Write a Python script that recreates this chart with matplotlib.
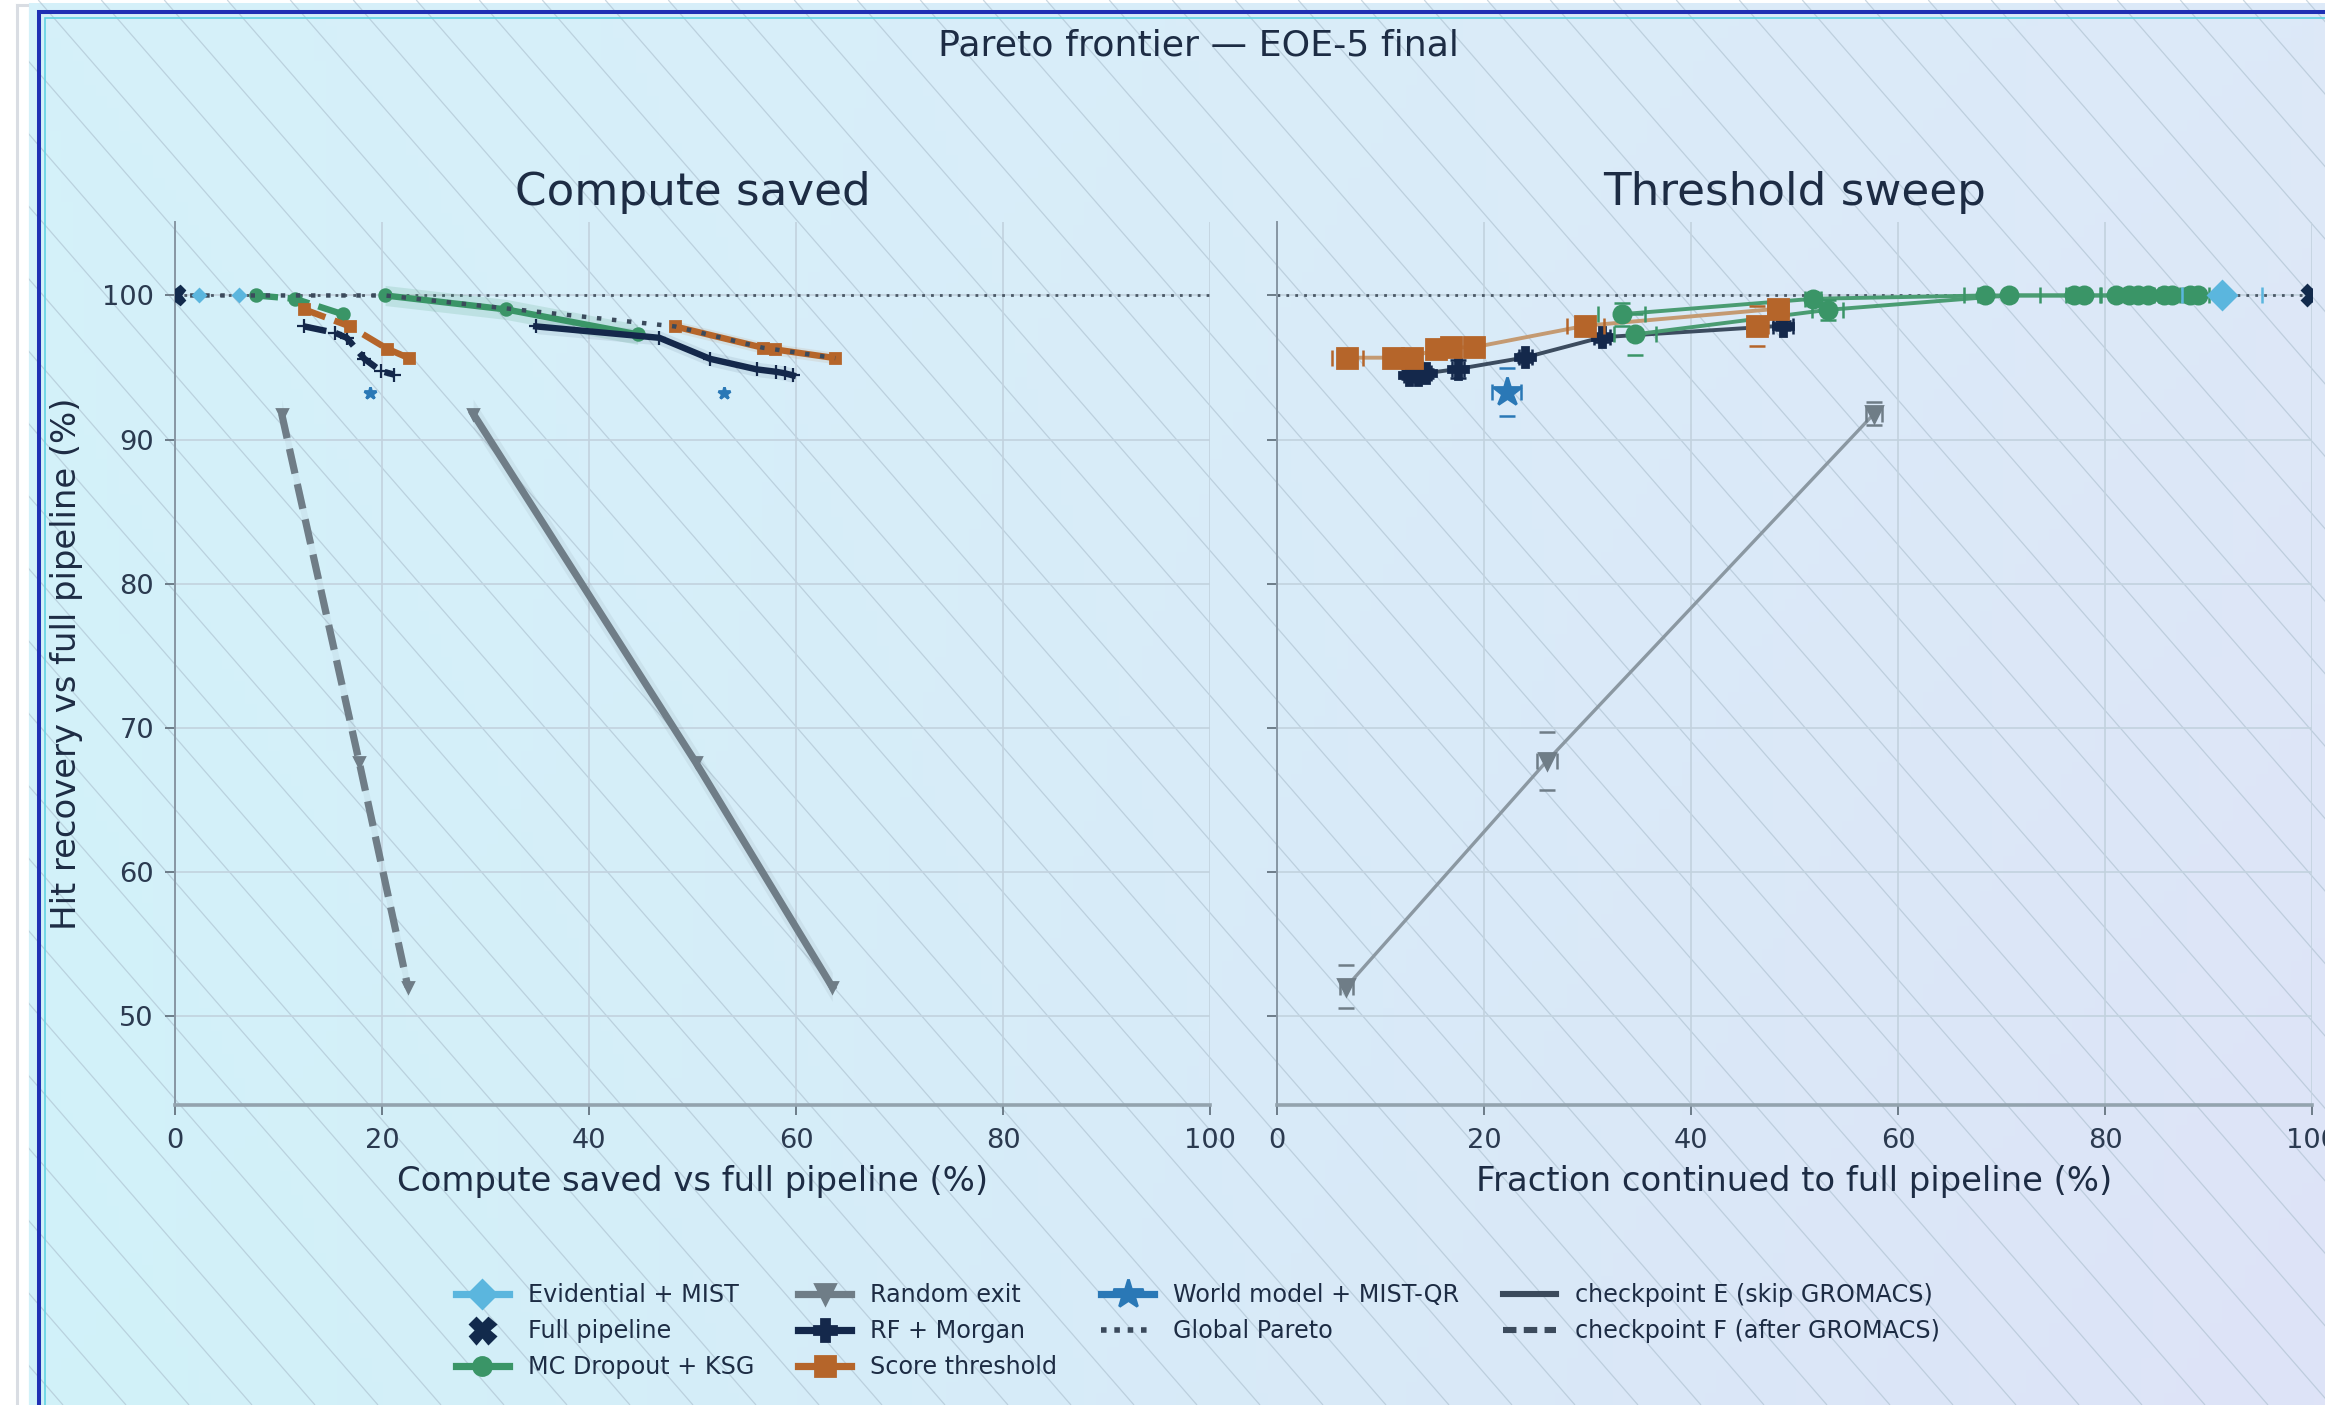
import numpy as np
import matplotlib
matplotlib.use("Agg")
import matplotlib.pyplot as plt
from matplotlib.lines import Line2D
from matplotlib.collections import LineCollection

W, H, DPI = 2325, 1405, 200

# ---------------- data: compute-saved view ----------------
evid_saved = [2.3, 6.2]
evid_rec = [100.0, 100.0]
full_saved = [0.0]
full_rec = [100.0]

mcd_e_saved = [20.3, 32.0, 44.7]
mcd_e_rec = [100.0, 99.03, 97.3]
mcd_f_saved = [7.8, 11.6, 16.2]
mcd_f_rec = [100.0, 99.77, 98.7]

rf_e_saved = [34.9, 46.8, 51.7, 56.2, 58.1, 58.9, 59.7]
rf_e_rec = [97.85, 97.06, 95.6, 94.87, 94.7, 94.6, 94.45]
rf_f_saved = [12.5, 15.5, 16.6, 18.3, 19.9, 21.2]
rf_f_rec = [97.85, 97.4, 97.06, 95.6, 94.75, 94.5]

score_e_saved = [48.3, 56.8, 58.0, 63.8]
score_e_rec = [97.85, 96.37, 96.25, 95.65]
score_f_saved = [12.5, 16.9, 20.5, 22.6]
score_f_rec = [99.03, 97.85, 96.3, 95.65]

rand_e_saved = [28.8, 50.3, 63.5]
rand_f_saved = [10.3, 17.8, 22.5]
rand_rec = [91.8, 67.6, 52.0]

wm_saved = [18.8, 53.0]
wm_rec = [93.2, 93.2]

pareto_saved = [0.0, 20.3, 48.3, 56.8, 58.0, 63.8]
pareto_rec = [100.0, 100.0, 97.85, 96.37, 96.25, 95.65]

# ---------------- data: threshold sweep ----------------
rand_frac = [6.7, 26.1, 57.7]
rand_sw = [52.0, 67.7, 91.8]
rand_xerr = [0.6, 1.0, 0.8]
rand_yerr = [1.5, 2.0, 0.8]

wm_frac = [22.2]
wm_sw = [93.3]
wm_xerr = [1.4]
wm_yerr = [1.65]

score_frac = [6.8, 11.2, 13.0, 15.4, 16.8, 19.0, 29.8, 48.4]
score_sw = [95.68, 95.68, 95.68, 96.3, 96.4, 96.4, 97.9, 99.08]
score_xerr = [1.5, 0.8, 0.6, 0.8, 0.6, 0.6, 1.8, 1.0]
score_yerr = [0.3, 0.3, 0.3, 0.3, 0.3, 0.3, 0.4, 0.4]
score_alt_frac = [46.4]
score_alt_sw = [97.9]
score_alt_xerr = [1.0]
score_alt_yerr = [1.4]

rf_frac = [12.8, 13.6, 14.4, 17.5, 24.0, 31.4, 48.9]
rf_sw = [94.5, 94.5, 94.6, 94.9, 95.7, 97.1, 97.9]
rf_xerr = [0.5, 0.5, 0.5, 0.6, 0.6, 0.8, 1.0]
rf_yerr = [0.3, 0.3, 0.3, 0.6, 0.3, 0.3, 0.3]

mcd_f_frac = [33.3, 51.8, 68.4, 77.0, 81.1, 83.2, 85.7, 88.2]
mcd_f_sw = [98.7, 99.77, 100.0, 100.0, 100.0, 100.0, 100.0, 100.0]
mcd_f_xerr = [2.3, 0.8, 2.0, 0.8, 1.5, 1.0, 1.0, 1.0]
mcd_f_yerr = [0.8, 0.3, 0.0, 0.0, 0.0, 0.0, 0.0, 0.0]
mcd_e_frac = [34.6, 53.2, 70.7, 78.0, 82.3, 84.2, 86.5, 89.0]
mcd_e_sw = [97.3, 99.0, 100.0, 100.0, 100.0, 100.0, 100.0, 100.0]
mcd_e_xerr = [2.0, 1.5, 3.0, 1.5, 1.0, 1.0, 1.0, 1.0]
mcd_e_yerr = [1.4, 0.7, 0.0, 0.0, 0.0, 0.0, 0.0, 0.0]

evid_frac = [91.3]
evid_sw = [100.0]
evid_xerr = [3.9]

full_frac = [100.0]
full_sw = [100.0]

# ---------------- styling ----------------
C_EVID = "#5bb6de"
C_FULL = "#122a4c"
C_MCD = "#3a9567"
C_RAND = "#6f7d87"
C_RF = "#14284b"
C_SCORE = "#b5652a"
C_WM = "#2a78b6"
C_LINE = "#3b4a5c"
C_TEXT = "#1d2c44"

plt.rcParams["font.family"] = ["DejaVu Sans"]
plt.rcParams["text.color"] = C_TEXT
plt.rcParams["axes.labelcolor"] = C_TEXT
plt.rcParams["xtick.color"] = "#6d7c88"
plt.rcParams["ytick.color"] = "#6d7c88"
plt.rcParams["xtick.labelcolor"] = "#2b3a50"
plt.rcParams["ytick.labelcolor"] = "#2b3a50"

fig = plt.figure(figsize=(W / DPI, H / DPI), dpi=DPI)
fig.patch.set_facecolor("white")

# ---------------- background: gradient, hatch, frame ----------------
bg = fig.add_axes([0, 0, 1, 1], zorder=-10)
bg.set_xlim(0, W)
bg.set_ylim(0, H)
bg.axis("off")
c_tl = np.array([213, 241, 250]) / 255
c_bl = np.array([209, 242, 249]) / 255
c_tr = np.array([221, 233, 248]) / 255
c_br = np.array([222, 227, 247]) / 255
gx = np.linspace(0, 1, 200)[None, :, None]
gy = np.linspace(0, 1, 120)[:, None, None]
grad = (1 - gy) * ((1 - gx) * c_tl + gx * c_tr) + gy * ((1 - gx) * c_bl + gx * c_br)
bg.imshow(grad, extent=[27, W, 0, H - 3], origin="upper", aspect="auto", zorder=0)

spacing, slope = 63.0, 1.15
segs = []
x0 = -H / slope
while x0 < W + 10:
    segs.append([(x0, H), (x0 + H / slope, 0)])
    x0 += spacing
bg.add_collection(LineCollection(segs, colors="#a9bdcc", linewidths=0.45, alpha=0.6, zorder=1))
bg.fill_between([0, 27], 0, H, color="white", zorder=2)
bg.plot([17, 17], [0, H - 5], color="#d9dde3", lw=1.1, zorder=3)
bg.plot([17, 27], [H - 5, H - 5], color="#d9dde3", lw=1.1, zorder=3)
bg.plot([39, 39, W + 5], [-5, H - 12, H - 12], color="#2030b4", lw=1.45, zorder=4,
        solid_joinstyle="miter")
bg.plot([45, 45, W + 5], [-5, H - 18, H - 18], color="#62d3e3", lw=0.6, zorder=4,
        solid_joinstyle="miter")

# ---------------- axes ----------------
ax1 = fig.add_axes([175 / W, 1 - 1105 / H, 1035 / W, 883 / H])
ax2 = fig.add_axes([1277 / W, 1 - 1105 / H, 1035 / W, 883 / H], sharey=ax1)

for ax in (ax1, ax2):
    ax.set_facecolor("none")
    ax.set_xlim(0, 100)
    ax.set_ylim(43.8, 105.1)
    ax.set_xticks([0, 20, 40, 60, 80, 100])
    ax.set_yticks([50, 60, 70, 80, 90, 100])
    ax.grid(True, color="#c2d2de", lw=0.7, alpha=0.85)
    ax.set_axisbelow(True)
    for s in ("top", "right"):
        ax.spines[s].set_visible(False)
    ax.spines["left"].set_color("#8796a3")
    ax.spines["left"].set_linewidth(0.7)
    ax.spines["bottom"].set_color("#93a3ae")
    ax.spines["bottom"].set_linewidth(1.3)
    ax.tick_params(axis="both", length=3.6, width=0.7, labelsize=9.8)
    ax.tick_params(axis="x", pad=4.5)
    ax.tick_params(axis="y", pad=4)
    ax.axhline(100, color="#4a5866", lw=1.0, ls=(0, (1, 2.2)), zorder=2)
plt.setp(ax2.get_yticklabels(), visible=False)

# ---------------- left: compute saved ----------------
def band(ax, x, y, color, w=0.6, a=0.12):
    y = np.asarray(y)
    ax.fill_between(x, y - w, y + w, color=color, alpha=a, lw=0, zorder=2)

LW = 2.3
DASH = (0, (3.5, 1.5))
band(ax1, mcd_e_saved, mcd_e_rec, C_MCD, 0.7, 0.15)
band(ax1, rf_e_saved, rf_e_rec, C_RF, 0.5, 0.08)
band(ax1, score_e_saved, score_e_rec, C_SCORE, 0.4, 0.1)
band(ax1, rand_e_saved, rand_rec, C_RAND, 1.0, 0.1)
band(ax1, rand_f_saved, rand_rec, C_RAND, 1.0, 0.08)

ax1.plot(rand_e_saved, rand_rec, color=C_RAND, lw=2.6, ls="-", marker="v", ms=3.5, zorder=3)
ax1.plot(rand_f_saved, rand_rec, color=C_RAND, lw=2.6, ls=DASH, marker="v", ms=3.5, zorder=3)

ax1.plot(mcd_e_saved, mcd_e_rec, color=C_MCD, lw=LW, ls="-", marker="o", ms=4.2, zorder=4)
ax1.plot(mcd_f_saved, mcd_f_rec, color=C_MCD, lw=LW, ls=DASH, marker="o", ms=4.2, zorder=4)

ax1.plot(rf_e_saved, rf_e_rec, color=C_RF, lw=LW, ls="-", marker="+", ms=5, mew=0.8, zorder=4)
ax1.plot(rf_f_saved, rf_f_rec, color=C_RF, lw=LW, ls=DASH, marker="+", ms=5, mew=0.8, zorder=4)

ax1.plot(score_e_saved, score_e_rec, color=C_SCORE, lw=LW, ls="-", marker="s", ms=3.8, zorder=4)
ax1.plot(score_f_saved, score_f_rec, color=C_SCORE, lw=LW, ls=DASH, marker="s", ms=3.8, zorder=4)

ax1.plot(pareto_saved, pareto_rec, color=C_LINE, lw=1.6, ls=(0, (1, 2.4)), zorder=5)

ax1.plot(wm_saved, wm_rec, ls="none", color=C_WM, marker="*", ms=4.5, zorder=5)
ax1.plot(evid_saved, evid_rec, ls="none", color=C_EVID, marker="D", ms=3.2, zorder=5)
ax1.plot(full_saved, full_rec, ls="none", color=C_FULL, marker="X", ms=6.5, zorder=6)

ax1.set_xlabel("Compute saved vs full pipeline (%)", fontsize=12.2, labelpad=4)
ax1.set_ylabel("Hit recovery vs full pipeline (%)", fontsize=12.2, labelpad=7)
ax1.set_title("Compute saved", fontsize=16.3, pad=6)

# ---------------- right: threshold sweep ----------------
EB = dict(elinewidth=0, capsize=2.8, capthick=0.9)

ax2.plot(rand_frac, rand_sw, color="#8b98a2", lw=1.2, zorder=3)
ax2.errorbar(rand_frac, rand_sw, xerr=rand_xerr, yerr=rand_yerr, fmt="v", color=C_RAND,
             ms=6, zorder=4, **EB)

ax2.errorbar(wm_frac, wm_sw, xerr=wm_xerr, yerr=wm_yerr, fmt="*", color=C_WM, ms=10.5,
             zorder=6, **EB)

ax2.plot(rf_frac, rf_sw, color="#3c4c5f", lw=1.4, zorder=3)
ax2.errorbar(rf_frac, rf_sw, xerr=rf_xerr, yerr=rf_yerr, fmt="P", color=C_RF, ms=7,
             zorder=4, **EB)

ax2.plot(score_frac, score_sw, color="#c49a72", lw=1.4, zorder=3)
ax2.errorbar(score_frac, score_sw, xerr=score_xerr, yerr=score_yerr, fmt="s", color=C_SCORE,
             ms=7, zorder=5, **EB)
ax2.errorbar(score_alt_frac, score_alt_sw, xerr=score_alt_xerr, yerr=score_alt_yerr, fmt="s",
             color=C_SCORE, ms=7, zorder=5, **EB)

ax2.plot(mcd_f_frac, mcd_f_sw, color="#4a9c72", lw=1.4, zorder=3)
ax2.plot(mcd_e_frac, mcd_e_sw, color="#4a9c72", lw=1.4, zorder=3)
ax2.errorbar(mcd_f_frac, mcd_f_sw, xerr=mcd_f_xerr, yerr=mcd_f_yerr, fmt="o", color=C_MCD,
             ms=6.2, zorder=5, **EB)
ax2.errorbar(mcd_e_frac, mcd_e_sw, xerr=mcd_e_xerr, yerr=mcd_e_yerr, fmt="o", color=C_MCD,
             ms=6.2, zorder=5, **EB)

ax2.errorbar(evid_frac, evid_sw, xerr=evid_xerr, fmt="D", color=C_EVID, ms=7, zorder=6, **EB)
ax2.plot(full_frac, full_sw, ls="none", color=C_FULL, marker="X", ms=7, zorder=6)

ax2.set_xlabel("Fraction continued to full pipeline (%)", fontsize=12.2, labelpad=4)
ax2.set_title("Threshold sweep", fontsize=16.3, pad=6)

fig.suptitle("Pareto frontier \u2014 EOE-5 final", x=1198 / W, y=1 - 46 / H, va="center",
             fontsize=13.1, color=C_TEXT)

# ---------------- legend ----------------
def h(color, marker, ms=8, ls="-", lw=2.6):
    return Line2D([], [], color=color, marker=marker, ms=ms, ls=ls, lw=lw)

handles = [
    h(C_EVID, "D", 7), Line2D([], [], color=C_FULL, marker="X", ms=9, ls="none"),
    h(C_MCD, "o", 6.5),
    h(C_RAND, "v", 7), h(C_RF, "P", 8), h(C_SCORE, "s", 7),
    h(C_WM, "*", 11), Line2D([], [], color=C_LINE, ls=(0, (1, 1.4)), lw=2.0),
    Line2D([], [], color=C_LINE, ls="-", lw=2.2), Line2D([], [], color=C_LINE, ls=(0, (2.2, 1.2)), lw=2.2),
]
labels = ["Evidential + MIST", "Full pipeline", "MC Dropout + KSG",
          "Random exit", "RF + Morgan", "Score threshold",
          "World model + MIST-QR", "Global Pareto",
          "checkpoint E (skip GROMACS)", "checkpoint F (after GROMACS)"]
fig.legend(handles, labels, loc="center", bbox_to_anchor=(1198 / W, 1 - 1331 / H), ncol=4,
           frameon=False, fontsize=8.6, handlelength=2.2, labelspacing=0.5,
           columnspacing=1.85, handletextpad=0.8, labelcolor=C_TEXT)

fig.savefig("out.png", dpi=DPI)
